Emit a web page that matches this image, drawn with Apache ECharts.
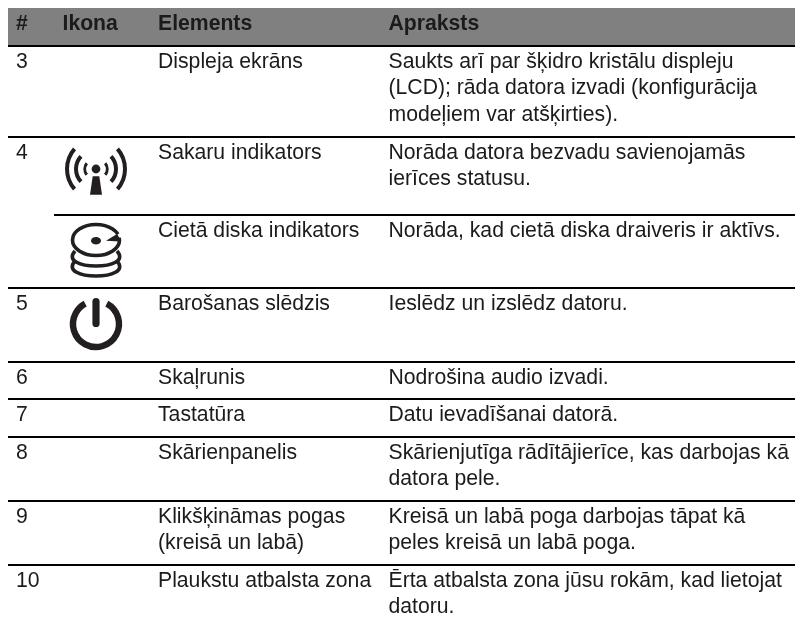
<!DOCTYPE html>
<html><head><meta charset="utf-8">
<style>html,body{margin:0;padding:0;background:#fff}#c{width:795px;height:624px}</style>
<script src="https://cdn.jsdelivr.net/npm/echarts@6/dist/echarts.min.js"></script>
</head><body><div id="c"></div>
<script>
const headers = ['#', 'Ikona', 'Elements', 'Apraksts'];
const numbers = ['3', '4', '', '5', '6', '7', '8', '9', '10'];
const elements = ['Displeja ekrāns', 'Sakaru indikators', 'Cietā diska indikators', 'Barošanas slēdzis', 'Skaļrunis', 'Tastatūra', 'Skārienpanelis', 'Klikšķināmas pogas\n(kreisā un labā)', 'Plaukstu atbalsta zona'];
const descriptions = [
  'Saukts arī par šķidro kristālu displeju\n(LCD); rāda datora izvadi (konfigurācija\nmodeļiem var atšķirties).',
  'Norāda datora bezvadu savienojamās\nierīces statusu.',
  'Norāda, kad cietā diska draiveris ir aktīvs.',
  'Ieslēdz un izslēdz datoru.',
  'Nodrošina audio izvadi.',
  'Datu ievadīšanai datorā.',
  'Skārienjutīga rādītājierīce, kas darbojas kā\ndatora pele.',
  'Kreisā un labā poga darbojas tāpat kā\npeles kreisā un labā poga.',
  'Ērta atbalsta zona jūsu rokām, kad lietojat\ndatoru.'
];
const icons = ['', 'signal', 'disk', 'power', '', '', '', '', ''];

// layout (pixels of the page, mapped through the hidden axes)
const colX = [16, 62.5, 158, 388.5];
const ruleY = [46, 137, 215, 288, 362, 399, 437, 501, 565];
const ruleX0 = [8, 8, 54, 8, 8, 8, 8, 8, 8];
const rightX = 795, bandTop = 8, bandBottom = 45;
const FONT = '"Liberation Sans", Arial, sans-serif';
const FS = 21.2, LH = 26.6, INK = '#1c1a1b', ICON = '#231f20';
const BASE = 22.8;

function textEl(api, x, yBase, s, bold) {
  const p = api.coord([x, yBase]);
  return {type: 'text', x: p[0], y: p[1] - FS * 0.905, style: {
    text: s, fill: INK, fontSize: FS, fontFamily: FONT, fontWeight: bold ? 'bold' : 'normal',
    align: 'left', verticalAlign: 'top', lineHeight: FS * 1.15}};
}
function rowText(params, api) {
  const i = api.value(0), kids = [];
  const y0 = ruleY[i] + BASE;
  [numbers[i], elements[i], descriptions[i]].forEach((t, c) => {
    const x = colX[c === 0 ? 0 : c + 1];
    t.split('\n').forEach((ln, k) => { if (ln) kids.push(textEl(api, x, y0 + k * LH, ln, false)); });
  });
  return {type: 'group', children: kids};
}
function signal(cx, cy) {
  const k = [], a = (r, off, half, w) => {
    const d = half * Math.PI / 180;
    k.push({type:'arc', shape:{cx: off, cy: 0, r, startAngle: Math.PI - d, endAngle: Math.PI + d, clockwise:true}, style:{stroke:ICON, lineWidth:w, fill:null}});
    k.push({type:'arc', shape:{cx: -off, cy: 0, r, startAngle: -d, endAngle: d, clockwise:true}, style:{stroke:ICON, lineWidth:w, fill:null}});
  };
  a(30.7, 1.7, 41, 4); a(18.5, -1.5, 43, 4); a(9.4, -1.8, 38, 3);
  k.push({type:'circle', shape:{cx:0, cy:0, r:4.4}, style:{fill:ICON}});
  k.push({type:'polygon', shape:{points:[[-3.3,7.3],[3.3,7.3],[6,25.7],[-6,25.7]]}, style:{fill:ICON}});
  return {type:'group', x:cx, y:cy, children:k};
}
function disk(cx, cy) {
  const s = {stroke:ICON, lineWidth:3.6, fill:null};
  const low = a => ({type:'bezierCurve', shape:{x1:-21,y1:a,cpx1:-39,cpy1:a+20,cpx2:39,cpy2:a+20,x2:21,y2:a}, style:s});
  const k = [
    low(11), low(21),
    {type:'ellipse', shape:{cx:0,cy:0,rx:23.5,ry:15.5}, style:s},
    {type:'polygon', shape:{points:[[21.5,-5.5],[27,-9],[27,-2.5],[23,-2.5]]}, style:{fill:'#fff'}},
    {type:'polygon', shape:{points:[[10,0.7],[21,-6],[24,1.5]]}, style:{fill:ICON}},
    {type:'ellipse', shape:{cx:0,cy:0.7,rx:5,ry:3.7}, style:{fill:ICON}}
  ];
  return {type:'group', x:cx, y:cy, children:k};
}
function power(cx, cy) {
  const g = 28 * Math.PI / 180, top = -Math.PI / 2;
  const k = [
    {type:'arc', shape:{cx:0,cy:0,r:23,startAngle: top + g, endAngle: top - g + 2*Math.PI, clockwise:true}, style:{stroke:ICON, lineWidth:6.4, fill:null}},
    {type:'rect', shape:{x:-3.6,y:-26,width:7.2,height:29,r:3.6}, style:{fill:ICON}}
  ];
  return {type:'group', x:cx, y:cy, children:k};
}
const iconMakers = {signal: [signal, 96, 169], disk: [disk, 96, 240], power: [power, 96, 324]};
function iconItem(params, api) {
  const m = iconMakers[icons[api.value(0)]];
  if (!m) return {type:'group', children:[]};
  const p = api.coord([m[1], m[2]]);
  return m[0](p[0], p[1]);
}
const idx = numbers.map((_, i) => [i]);
const chart = echarts.init(document.getElementById('c'), null, {renderer:'canvas'});
chart.setOption({
  animation:false, backgroundColor:'#fff',
  grid:{left:0,right:0,top:0,bottom:0},
  xAxis:{type:'value',min:0,max:795,show:false},
  yAxis:{type:'value',min:0,max:624,inverse:true,show:false},
  tooltip:{show:false},
  series:[
    {type:'custom',coordinateSystem:'cartesian2d',silent:true,data:[[0]],encode:{x:[],y:[]},
     renderItem:(p,api)=>{
       const a=api.coord([ruleX0[0],bandTop]), b=api.coord([rightX,bandBottom]);
       const kids=[{type:'rect',shape:{x:a[0],y:a[1],width:b[0]-a[0],height:b[1]-a[1]},style:{fill:'#808080'}}];
       headers.forEach((h,i)=>kids.push(textEl(api,colX[i],31.5,h,true)));
       return {type:'group',children:kids};
     }},
    {type:'custom',coordinateSystem:'cartesian2d',silent:true,data:idx,encode:{x:[],y:[]},
     renderItem:(p,api)=>{
       const i=api.value(0);
       const a=api.coord([ruleX0[i],ruleY[i]]), b=api.coord([rightX,ruleY[i]]);
       return {type:'line',shape:{x1:a[0],y1:a[1],x2:b[0],y2:b[1]},style:{stroke:'#000',lineWidth:2}};
     }},
    {type:'custom',coordinateSystem:'cartesian2d',silent:true,data:idx,encode:{x:[],y:[]},renderItem:rowText},
    {type:'custom',coordinateSystem:'cartesian2d',silent:true,data:idx,encode:{x:[],y:[]},renderItem:iconItem}
  ]
});
</script></body></html>
